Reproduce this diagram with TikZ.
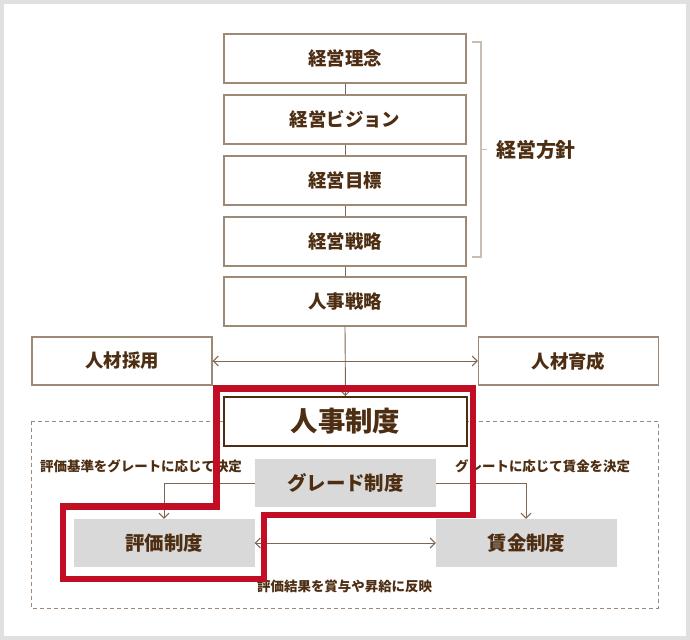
\documentclass[tikz,border=0pt]{standalone}
\usepackage{fontspec}
\newfontfamily\jp{Noto Sans CJK JP}
\usetikzlibrary{arrows.meta}
\definecolor{txt}{HTML}{4E2E12}
\definecolor{bx}{HTML}{9C8A77}
\definecolor{ln}{HTML}{7E6752}
\definecolor{brk}{HTML}{C9BEB2}
\definecolor{redl}{HTML}{C20E24}
\definecolor{gfill}{HTML}{D9D9D9}
\definecolor{frame}{HTML}{E0E0E0}
\tikzset{
  topbox/.style={draw=bx, line width=1.2bp, fill=white, minimum width=242bp, minimum height=49bp, inner sep=0pt, text=txt, font=\jp\bfseries\fontsize{18.5}{22}\selectfont},
  sidebox/.style={topbox, minimum width=180bp, minimum height=48bp},
  graybox/.style={fill=gfill, minimum width=181bp, minimum height=48bp, inner sep=0pt, text=txt, font=\jp\bfseries\fontsize{19.5}{23}\selectfont},
  conn/.style={draw=ln, line width=0.9bp},
  arr/.style={conn, -{Straight Barb[length=5bp,width=10bp,line width=1bp]}},
  darr/.style={conn, {Straight Barb[length=5bp,width=10bp,line width=1bp]}-{Straight Barb[length=5bp,width=10bp,line width=1bp]}},
  lbl/.style={text=txt, inner sep=0pt, font=\jp\bfseries\fontsize{13.5}{16}\selectfont},
}
\begin{document}
\begin{tikzpicture}[x=1bp,y=-1bp]
\fill[frame] (0,0) rectangle (690,640);
\fill[white] (4,4) rectangle (686,636);
\useasboundingbox (0,0) rectangle (690,640);

% dashed area
\draw[bx, line width=1bp, dash pattern=on 4bp off 3bp] (31,421) rectangle (658,608);

% top column
\node[topbox] (b1) at (345,58.5) {経営理念};
\node[topbox] (b2) at (345,119.5) {経営ビジョン};
\node[topbox] (b3) at (345,180.5) {経営目標};
\node[topbox] (b4) at (345,241.5) {経営戦略};
\node[topbox] (b5) at (345,301.5) {人事戦略};
\draw[conn] (b1.south) -- (b2.north);
\draw[conn] (b2.south) -- (b3.north);
\draw[conn] (b3.south) -- (b4.north);
\draw[conn] (b4.south) -- (b5.north);

% bracket
\draw[brk, line width=1.2bp] (472,42) -- (481,42) -- (481,257) -- (472,257);
\coordinate (bm) at (481,149.5);
\draw[brk, line width=1.2bp] (bm) -- ++(6,0);
\node[text=txt, inner sep=0pt, anchor=west, font=\jp\bfseries\fontsize{20}{24}\selectfont] (hoshin) at (496,149.5) {経営方針};

% side boxes
\node[sidebox] (saiyo) at (122,361) {人材採用};
\node[sidebox] (ikusei) at (568.5,361) {人材育成};

% jinji seido
\node[draw=txt, line width=2bp, fill=white, minimum width=243bp, minimum height=49bp, inner sep=0pt, text=txt, font=\jp\bfseries\fontsize{27.5}{32}\selectfont] (seido) at (345.5,421.5) {人事制度};

\draw[darr] (saiyo.east) -- (ikusei.east -| ikusei.west);
\draw[arr] (b5.south) -- (seido.north);

% gray boxes
\node[graybox] (grade) at (345.5,483) {グレード制度};
\node[graybox] (hyoka) at (164,543) {評価制度};
\node[graybox] (chingin) at (526.5,543) {賃金制度};

\coordinate (gl) at (164,483);
\coordinate (gr) at (526,483);
\draw[arr] (grade.west) -- (gl) -- (hyoka.north -| gl);
\draw[arr] (grade.east) -- (gr) -- (chingin.north -| gr);
\draw[darr] (hyoka.east) -- (chingin.west);

% labels
\node[lbl, anchor=west] (l1) at (40,466) {評価基準をグレートに応じて決定};
\node[lbl, anchor=west] (l2) at (455,466) {グレートに応じて賃金を決定};
\node[lbl, anchor=west] (l3) at (257,586) {評価結果を賞与や昇給に反映};

% red outline
\draw[redl, line width=6.5bp, line join=miter] (216.5,388.5) -- (473,388.5) -- (473,515) -- (264,515) -- (264,579) -- (63,579) -- (63,506.5) -- (216.5,506.5) -- cycle;
\end{tikzpicture}
\end{document}
